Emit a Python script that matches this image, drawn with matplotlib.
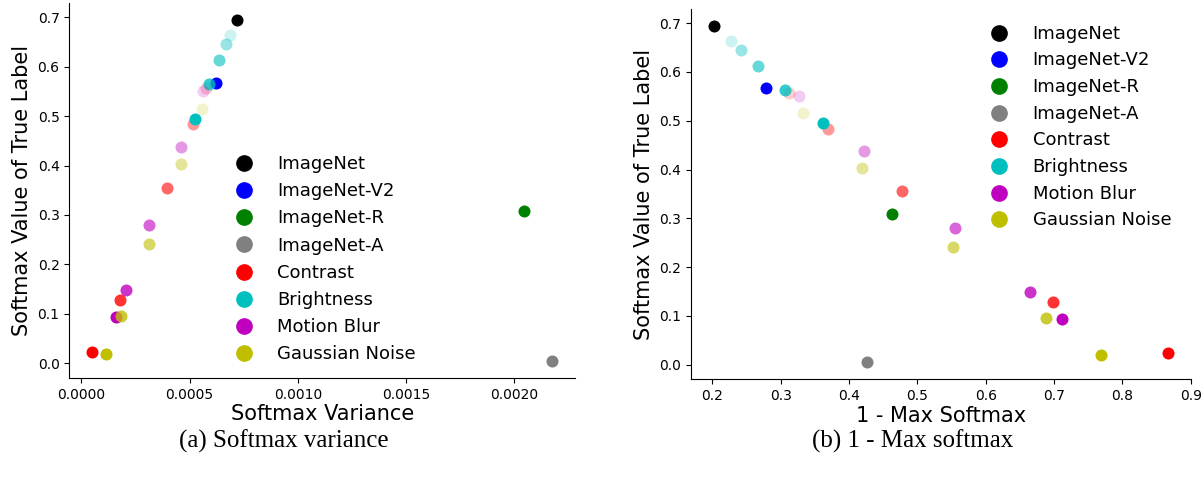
import matplotlib
matplotlib.use('Agg')
import matplotlib.pyplot as plt
from matplotlib.lines import Line2D

# single datasets
datasets = ['ImageNet', 'ImageNet-V2', 'ImageNet-R', 'ImageNet-A']
dataset_colors = ['k', 'b', 'g', 'gray']
dataset_var = [0.000719, 0.000624, 0.002044, 0.002174]
dataset_mms = [0.2019, 0.2784, 0.4622, 0.4269]
dataset_true = [0.694, 0.567, 0.308, 0.005]

# corruptions, severity 1..5
corruptions = ['Contrast', 'Brightness', 'Motion Blur', 'Gaussian Noise']
corruption_colors = ['r', 'c', 'm', 'y']
severity_alpha = [0.2, 0.4, 0.6, 0.8, 1.0]

contrast_var = [0.000578, 0.000515, 0.000394, 0.000177, 0.0000506]
contrast_mms = [0.3116, 0.3696, 0.4774, 0.698, 0.867]
contrast_true = [0.556, 0.484, 0.355, 0.129, 0.024]

brightness_var = [0.000687, 0.000668, 0.000638, 0.000590, 0.000524]
brightness_mms = [0.2278, 0.2425, 0.2671, 0.3068, 0.3622]
brightness_true = [0.664, 0.645, 0.613, 0.564, 0.495]

motion_var = [0.000564, 0.000459, 0.000315, 0.000207, 0.000160]
motion_mms = [0.3263, 0.4215, 0.5557, 0.665, 0.7116]
motion_true = [0.550, 0.438, 0.280, 0.148, 0.094]

noise_var = [0.000559, 0.000459, 0.000315, 0.000185, 0.000112]
noise_mms = [0.3322, 0.4196, 0.5528, 0.6876, 0.7685]
noise_true = [0.515, 0.403, 0.241, 0.095, 0.019]

corr_var = [contrast_var, brightness_var, motion_var, noise_var]
corr_mms = [contrast_mms, brightness_mms, motion_mms, noise_mms]
corr_true = [contrast_true, brightness_true, motion_true, noise_true]

fig = plt.figure(figsize=(12.02, 4.83), dpi=100)
ax1 = fig.add_axes([0.0576, 0.2174, 0.4208, 0.7764])
ax2 = fig.add_axes([0.5748, 0.2153, 0.4160, 0.7654])

def draw(ax, xs_single, xs_corr):
    for i in range(len(datasets)):
        ax.scatter(xs_single[i], dataset_true[i], s=75, color=dataset_colors[i], lw=0)
    for j in range(len(corruptions)):
        for k in range(5):
            ax.scatter(xs_corr[j][k], corr_true[j][k], s=75, color=corruption_colors[j],
                       alpha=severity_alpha[k], lw=0)
    handles = [Line2D([], [], ls='', marker='o', ms=11, color=c)
               for c in dataset_colors + corruption_colors]
    for sp in ['top', 'right']:
        ax.spines[sp].set_visible(False)
    ax.tick_params(labelsize=10)
    ax.set_ylabel('Softmax Value of True Label', fontsize=15)
    return handles

h = draw(ax1, dataset_var, corr_var)
ax1.set_xlabel('Softmax Variance', fontsize=15, labelpad=2)
ax1.set_xticks([0, 0.0005, 0.001, 0.0015, 0.002])
ax1.set_xticklabels(['0.0000', '0.0005', '0.0010', '0.0015', '0.0020'])
ax1.legend(h, datasets + corruptions, frameon=False, fontsize=13, loc='upper left',
           bbox_to_anchor=(0.279, 0.638), handletextpad=0.9, handlelength=1.9,
           labelspacing=0.51)

h = draw(ax2, dataset_mms, corr_mms)
ax2.set_xlabel('1 - Max Softmax', fontsize=15, labelpad=2)
ax2.legend(h, datasets + corruptions, frameon=False, fontsize=13, loc='upper left',
           bbox_to_anchor=(0.550, 1.002), handletextpad=0.9, handlelength=1.9,
           labelspacing=0.48)

fig.text(0.236, 0.086, '(a) Softmax variance', ha='center', va='center',
         fontsize=18, family='Liberation Serif')
fig.text(0.759, 0.086, '(b) 1 - Max softmax', ha='center', va='center',
         fontsize=18, family='Liberation Serif')

fig.savefig('out.png', dpi=100)
